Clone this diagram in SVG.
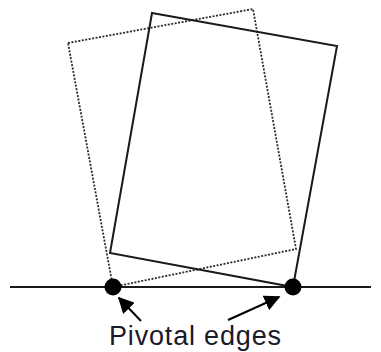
<svg xmlns="http://www.w3.org/2000/svg" width="381" height="352" viewBox="0 0 381 352">
<style>
.solid{fill:none;stroke:#1a1a1a;stroke-width:2;stroke-linejoin:miter}
.dotted{fill:none;stroke:#2a2a2a;stroke-width:1.8;stroke-dasharray:2 1.5}
.base{stroke:#1a1a1a;stroke-width:2}
.arrow{stroke:#000;stroke-width:2;fill:none}
.lbl{font-family:"Liberation Sans",Arial,sans-serif;font-size:27px;fill:#1a1a2a}
</style>
<defs>
<marker id="ah" viewBox="0 0 10 10" refX="9" refY="5" markerWidth="8" markerHeight="8" markerUnits="strokeWidth" orient="auto">
<path d="M0,0 L10,5 L0,10 Z" fill="#000"/>
</marker>
</defs>
<g id="ground"><line class="base" x1="10" y1="287" x2="371" y2="287"/></g>
<g id="original-box"><polygon class="dotted" points="68,43 253,9 296,249 113,287"/></g>
<g id="tilted-box"><polygon class="solid" points="152,13 337,46 293,287 110,253"/></g>
<g id="pivot-left"><circle cx="113" cy="287" r="8.5" fill="#000"/></g>
<g id="pivot-right"><circle cx="293" cy="287" r="8.5" fill="#000"/></g>
<g id="connectors">
<line class="arrow" x1="141" y1="321" x2="119" y2="298" marker-end="url(#ah)"/>
<line class="arrow" x1="228" y1="320" x2="279" y2="297" marker-end="url(#ah)"/>
</g>
<g id="label"><text class="lbl" x="109" y="345" textLength="172" lengthAdjust="spacing">Pivotal edges</text></g>
</svg>
